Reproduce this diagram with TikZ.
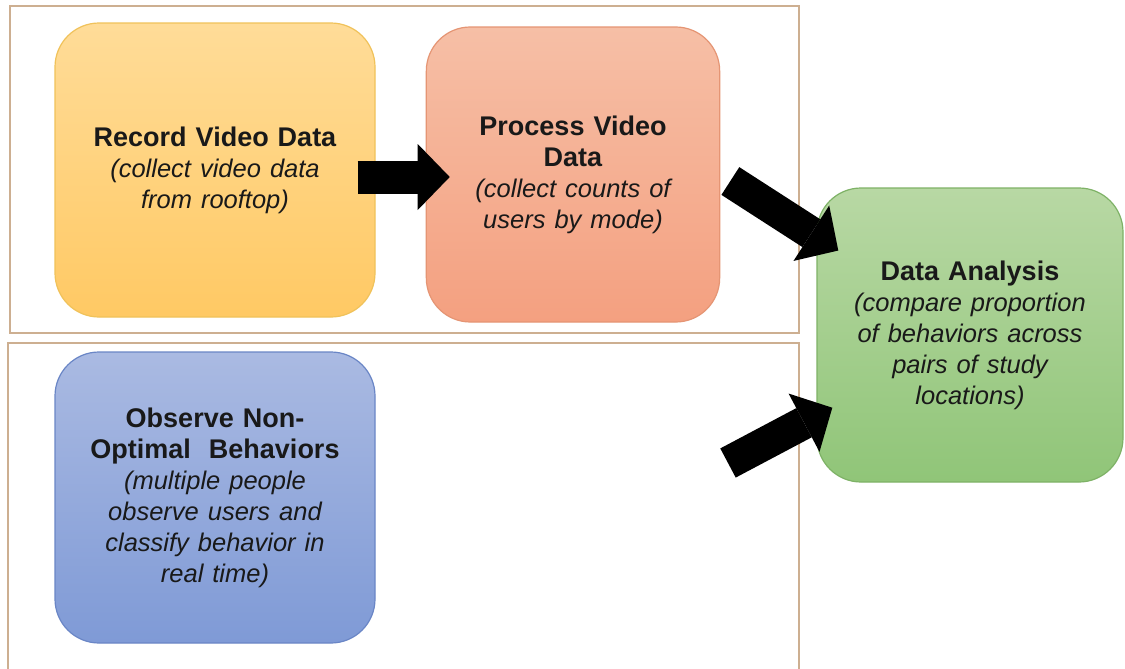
\documentclass[tikz,border=0pt]{standalone}
\usepackage{fontspec}
\setmainfont{Liberation Sans}
\usepackage{tikz}
\usetikzlibrary{arrows.meta, positioning}

\definecolor{framebrown}{RGB}{205,175,145}
\definecolor{recordtop}{HTML}{FFDC98}
\definecolor{recordbot}{HTML}{FFC964}
\definecolor{recordline}{HTML}{F0C25A}
\definecolor{processtop}{HTML}{F6BFA6}
\definecolor{processbot}{HTML}{F4A080}
\definecolor{processline}{HTML}{E59574}
\definecolor{analysistop}{HTML}{B8D8A4}
\definecolor{analysisbot}{HTML}{90C578}
\definecolor{analysisline}{HTML}{7EB266}
\definecolor{observetop}{HTML}{AABAE2}
\definecolor{observebot}{HTML}{7F9AD6}
\definecolor{observeline}{HTML}{6A86C6}

\newcommand{\stepnote}{\mdseries\itshape\fontsize{12.75}{15.5}\selectfont}

\begin{document}
\begin{tikzpicture}[x=0.5pt, y=-0.5pt,
    stepbox/.style={draw, rectangle, rounded corners=22pt, text centered, align=center, text width=140pt, line width=0.6pt, text=black!90, font=\bfseries\fontsize{13.5}{15.5}\selectfont},
    frame/.style={draw=framebrown, line width=1pt},
    bigarrow/.style={line width=16.5pt, -{Triangle[length=16pt, width=33pt, line width=0pt]}}]

    % Page and the two frames
    \fill[white] (0,0) rectangle (1125,669);
    \useasboundingbox (0,0) rectangle (1125,669);
    \draw[frame] (10,6) rectangle (799,333);
    \draw[frame] (8,669) -- (8,343) -- (799,343) -- (799,669);

    % Nodes for the four steps
    \node (record) [stepbox, minimum width=160pt, minimum height=147pt, draw=recordline, top color=recordtop, bottom color=recordbot] at (215,170) {Record Video Data\\ \stepnote (collect video data\\ from rooftop)};
    \node (process) [stepbox, minimum width=145pt, minimum height=147.5pt, draw=processline, top color=processtop, bottom color=processbot] at (573,174.5) {Process Video\\ Data\\ \stepnote (collect counts of\\ users by mode)};
    \node (analysis) [stepbox, minimum width=153pt, minimum height=147pt, draw=analysisline, top color=analysistop, bottom color=analysisbot] at (970,335) {Data Analysis\\ \stepnote (compare proportion\\ of behaviors across\\ pairs of study\\ locations)};
    \node (observe) [stepbox, minimum width=160pt, minimum height=145.5pt, draw=observeline, top color=observetop, bottom color=observebot] at (215,497.5) {Observe Non-\\ Optimal\ \ Behaviors\\ \stepnote (multiple people\\ observe users and\\ classify behavior in\\ real time)};

    % Block arrows between the steps
    \coordinate (recordout) at ([yshift=-3.5pt]record.east);
    \coordinate (observeout) at (728,463);
    \draw[bigarrow, shorten <=-9pt, shorten >=-12pt] (recordout) -- (recordout -| process.west);
    \draw[bigarrow, shorten <=6pt, shorten >=-13pt] (process.east) -- (analysis);
    \draw[bigarrow, shorten >=-9pt] (observeout) -- (analysis);

\end{tikzpicture}
\end{document}
